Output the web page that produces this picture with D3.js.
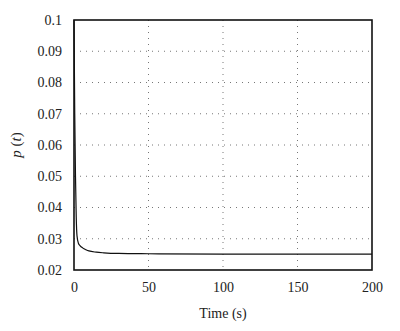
<!DOCTYPE html>
<html>
<head>
<meta charset="utf-8">
<script src="https://cdn.jsdelivr.net/npm/d3@7"></script>
<style>
  body { margin: 0; background: #fff; }
  text { font-family: "Liberation Serif", "Times New Roman", serif; }
</style>
</head>
<body>
<script>
/* values */
var times = [0, 0.5, 1, 1.5, 2, 3, 4, 6, 8, 10, 15, 20, 30, 50, 100, 150, 200];
var pValues = [0.1, 0.07, 0.05, 0.037, 0.031, 0.0285, 0.0278, 0.027, 0.0265, 0.0261, 0.0257, 0.0255, 0.0253, 0.0252, 0.0251, 0.0251, 0.0251];
var xTicks = [0, 50, 100, 150, 200];
var yTicks = [0.02, 0.03, 0.04, 0.05, 0.06, 0.07, 0.08, 0.09, 0.1];

var W = 400, H = 331;
var plotLeft = 74, plotRight = 372, plotTop = 20, plotBottom = 270;

var svg = d3.select("body").append("svg")
    .attr("width", W)
    .attr("height", H);

var x = d3.scaleLinear().domain([0, 200]).range([plotLeft, plotRight]);
var y = d3.scaleLinear().domain([0.02, 0.1]).range([plotBottom, plotTop]);

/* dotted grid */
svg.selectAll("line.gx")
  .data(xTicks.slice(1, -1))
  .enter().append("line")
    .attr("class", "gx")
    .attr("x1", function (d) { return x(d); })
    .attr("x2", function (d) { return x(d); })
    .attr("y1", plotTop).attr("y2", plotBottom)
    .attr("stroke", "#777").attr("stroke-width", 1)
    .attr("stroke-dasharray", "1,5");

svg.selectAll("line.gy")
  .data(yTicks.slice(1, -1))
  .enter().append("line")
    .attr("class", "gy")
    .attr("x1", plotLeft).attr("x2", plotRight)
    .attr("y1", function (d) { return y(d); })
    .attr("y2", function (d) { return y(d); })
    .attr("stroke", "#777").attr("stroke-width", 1)
    .attr("stroke-dasharray", "1,5");

/* axes */
var xAxis = svg.append("g")
    .attr("transform", "translate(0," + plotBottom + ")")
    .call(d3.axisBottom(x).tickValues(xTicks).tickSize(0).tickPadding(12)
      .tickFormat(d3.format("d")));
var yAxis = svg.append("g")
    .attr("transform", "translate(" + plotLeft + ",0)")
    .call(d3.axisLeft(y).tickValues(yTicks).tickSize(0).tickPadding(12)
      .tickFormat(function (d) { return d === 0.1 ? "0.1" : d3.format(".2f")(d); }));
[xAxis, yAxis].forEach(function (a) {
  a.select(".domain").remove();
  a.selectAll("text")
    .style("font-family", "'Liberation Serif', 'Times New Roman', serif")
    .style("font-size", "14px")
    .attr("fill", "#222");
});

/* the curve */
var line = d3.line()
    .x(function (d, i) { return x(times[i]); })
    .y(function (d) { return y(d); })
    .curve(d3.curveMonotoneX);
svg.append("path")
    .datum(pValues)
    .attr("d", line)
    .attr("fill", "none")
    .attr("stroke", "#111")
    .attr("stroke-width", 1.2);

/* frame */
svg.append("rect")
    .attr("x", plotLeft).attr("y", plotTop)
    .attr("width", plotRight - plotLeft).attr("height", plotBottom - plotTop)
    .attr("fill", "none")
    .attr("stroke", "#111")
    .attr("stroke-width", 1.6);

/* labels */
svg.append("text")
    .attr("x", (plotLeft + plotRight) / 2)
    .attr("y", 318)
    .attr("text-anchor", "middle")
    .style("font-size", "14px")
    .attr("fill", "#222")
    .text("Time (s)");

var yl = svg.append("text")
    .attr("transform", "translate(21," + ((plotTop + plotBottom) / 2) + ") rotate(-90)")
    .attr("text-anchor", "middle")
    .style("font-size", "15px")
    .attr("fill", "#222");
yl.append("tspan").style("font-style", "italic").text("p");
yl.append("tspan").text(" (");
yl.append("tspan").style("font-style", "italic").text("t");
yl.append("tspan").text(")");
</script>
</body>
</html>
